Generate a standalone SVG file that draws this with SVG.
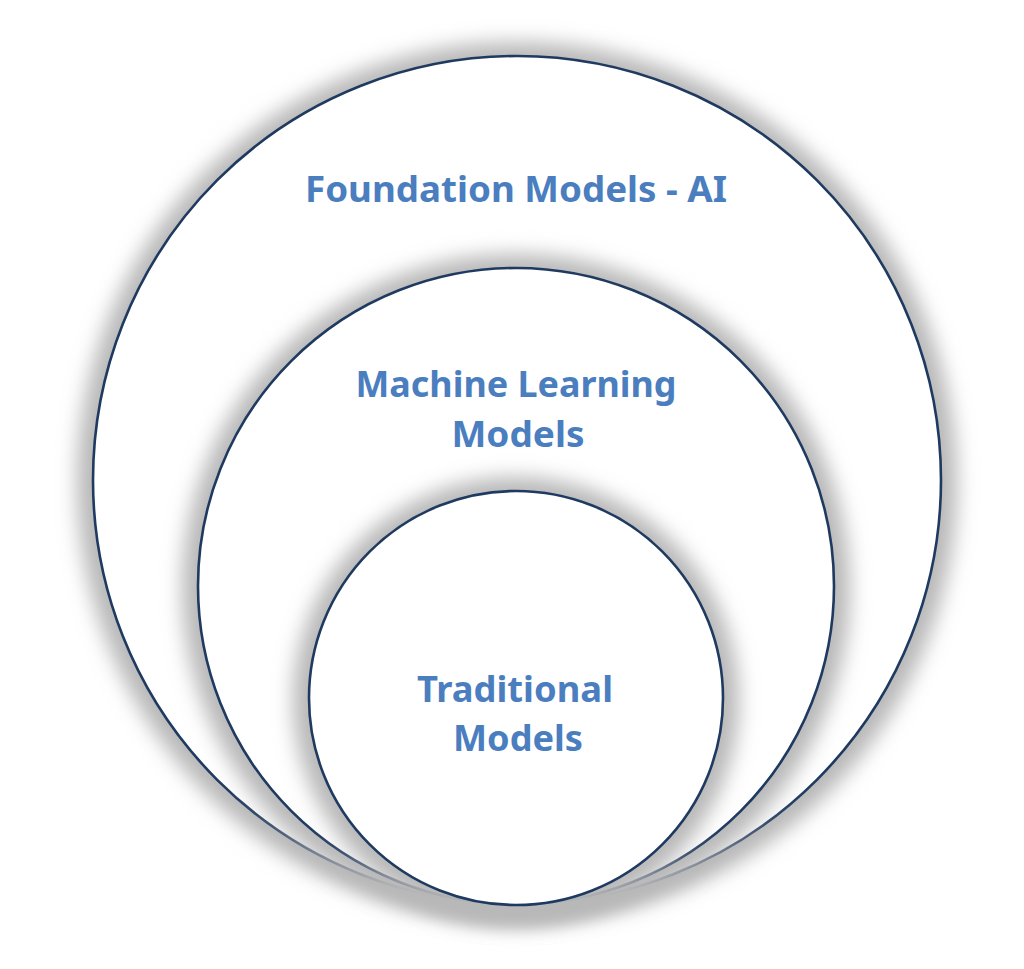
<svg xmlns="http://www.w3.org/2000/svg" width="1024" height="969" viewBox="0 0 1024 969">
  <style>
    .ring { fill: #ffffff; stroke: #1f3a60; stroke-width: 2.6; }
    .shadow { fill: #b8b8b8; filter: url(#glow); }
    .label { font-family: "Noto Sans", "Open Sans", sans-serif; font-weight: 700; font-size: 36px; fill: #4a7ebf; text-anchor: middle; }
  </style>
  <defs>
    <filter id="glow" x="-20%" y="-20%" width="140%" height="140%">
      <feGaussianBlur stdDeviation="10"/>
    </filter>
  </defs>
  <rect width="1024" height="969" fill="#ffffff"/>
  <g id="outer">
    <circle class="shadow" cx="517" cy="482" r="440"/>
    <circle class="ring" cx="517" cy="480" r="424"/>
    <text class="label" x="516" y="202" textLength="422" lengthAdjust="spacingAndGlyphs">Foundation Models - AI</text>
  </g>
  <g id="middle">
    <circle class="shadow" cx="516" cy="588" r="334"/>
    <circle class="ring" cx="516" cy="586" r="318"/>
    <text class="label" x="516" y="397" textLength="321" lengthAdjust="spacingAndGlyphs">Machine Learning</text>
    <text class="label" x="518" y="447" textLength="133" lengthAdjust="spacingAndGlyphs">Models</text>
  </g>
  <g id="inner">
    <circle class="shadow" cx="516" cy="700" r="223"/>
    <circle class="ring" cx="516" cy="698" r="207"/>
    <text class="label" x="515" y="702" textLength="196" lengthAdjust="spacingAndGlyphs">Traditional</text>
    <text class="label" x="518" y="751" textLength="130" lengthAdjust="spacingAndGlyphs">Models</text>
  </g>
  <g id="connectors"></g>
</svg>
